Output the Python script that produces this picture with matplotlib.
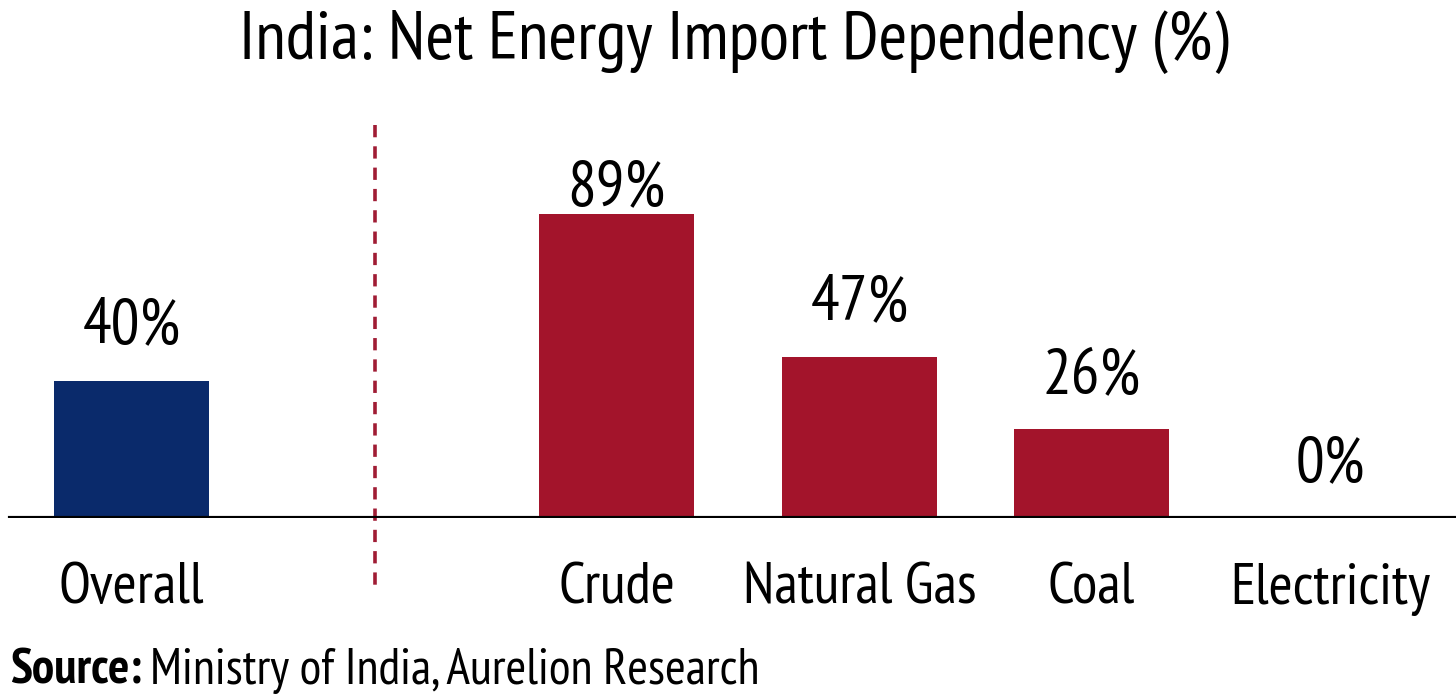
import matplotlib

matplotlib.use("Agg")
import matplotlib.pyplot as plt
from matplotlib import font_manager

# data
categories = ["Overall", "Crude", "Natural Gas", "Coal", "Electricity"]
values = [40, 89, 47, 26, 0]
value_labels = ["40%", "89%", "47%", "26%", "0%"]

# layout (pixel-like x units)
x_pos = [131.5, 616.5, 859.5, 1091.5, 1330]
bar_width = 155
label_gap_px = [39, 9, 38, 37, 38]
bar_colors = ["#0a2a6b", "#a3142b", "#a3142b", "#a3142b", "#a3142b"]

installed = {f.name for f in font_manager.fontManager.ttflist}
family = [f for f in ["PT Sans Narrow", "Fira Sans Condensed", "Open Sans", "DejaVu Sans"]
          if f in installed]
plt.rcParams["font.family"] = family

W, H = 1456, 695
fig = plt.figure(figsize=(W / 100, H / 100), dpi=100)
base_y = 518
px_per_unit = 3.42
ax = fig.add_axes([0, (H - base_y) / H, 1, 100 * px_per_unit / H])
ax.set_xlim(0, W)
ax.set_ylim(0, 100)
ax.axis("off")

ax.bar(x_pos, values, width=bar_width, color=bar_colors, zorder=2)
ax.axhline(0, xmin=10 / W, xmax=1, color="black", linewidth=3, zorder=3)

for x, v, lab, gap in zip(x_pos, values, value_labels, label_gap_px):
    ax.annotate(lab, (x, v), xytext=(0, gap * 0.72), textcoords="offset points",
                ha="center", va="baseline", fontsize=46)

for x, cat in zip(x_pos, categories):
    ax.text(x, -71 / px_per_unit, cat, ha="center", va="center", fontsize=42)

# divider between overall and individual fuels
ax.plot([375, 375], [115, -21], color="#a01c34", linewidth=2.6,
        linestyle=(0, (3.4, 2.5)), clip_on=False, zorder=1)

fig.text(734 / W, 1 - 42 / H, "India: Net Energy Import Dependency (%)",
         ha="center", va="center", fontsize=50)

src_bold = fig.text(10 / W, 1 - 671 / H, "Source:", ha="left", va="center",
                    fontsize=36, fontweight="bold")
fig.canvas.draw()
bb = src_bold.get_window_extent()
fig.text((bb.x1 + 8) / W, 1 - 671 / H, "Ministry of India, Aurelion Research",
         ha="left", va="center", fontsize=36)

fig.savefig("out.png", dpi=100)
